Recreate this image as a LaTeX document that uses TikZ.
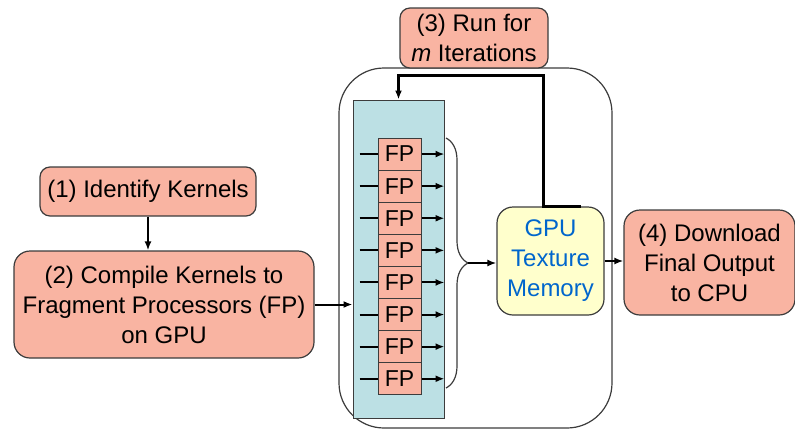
\documentclass[tikz,border=0pt]{standalone}
\usepackage{fontspec}
\setmainfont{Liberation Sans}
\usetikzlibrary{arrows.meta,decorations.pathreplacing}
\definecolor{salmon}{RGB}{249,180,162}
\definecolor{panelblue}{RGB}{188,224,228}
\definecolor{memyellow}{RGB}{255,255,204}
\definecolor{memtext}{RGB}{0,102,204}
\definecolor{edge}{RGB}{60,60,60}
\begin{document}
\begin{tikzpicture}[x=1pt,y=-1pt,>={Latex[length=9pt,width=7pt]},
  stepbox/.style={draw=edge,line width=1.2pt,fill=salmon,rounded corners=12pt,align=center,inner sep=0pt,
    font=\fontsize{24}{30}\selectfont},
  fpbox/.style={draw=edge,line width=1pt,fill=salmon,minimum width=43pt,minimum height=32.1pt,inner sep=0pt,
    font=\fontsize{23}{28}\selectfont},
  flow/.style={->,line width=2pt}]
  \useasboundingbox (0,0) rectangle (795,432);

  % host area and processor panel
  \node [draw=edge,line width=1.2pt,rounded corners=45pt,minimum width=273pt,minimum height=360pt] (host) at (475.5,248) {};
  \node [draw=edge,line width=1pt,fill=panelblue,minimum width=91pt,minimum height=318pt] (panel) at (398.5,259) {};

  % steps
  \node [stepbox,minimum width=216pt,minimum height=49pt,rounded corners=10pt] (identify) at (148,191.5) {(1) Identify Kernels};
  \node [stepbox,minimum width=300pt,minimum height=107pt,rounded corners=16pt] (compile) at (164,304.5) {(2) Compile Kernels to\\Fragment Processors (FP)\\on GPU};
  \node [stepbox,minimum width=148pt,minimum height=60pt,rounded corners=10pt] (run) at (474,38) {(3) Run for\\\textit{m} Iterations};
  \node [stepbox,minimum width=171pt,minimum height=105pt,rounded corners=16pt] (download) at (709.5,262.5) {(4) Download\\Final Output\\to CPU};
  \node [draw=edge,line width=1.2pt,fill=memyellow,rounded corners=16pt,minimum width=107pt,minimum height=108pt,
    align=center,inner sep=0pt,text=memtext,font=\fontsize{24}{30}\selectfont] (gpu) at (550.5,261) {GPU\\Texture\\Memory};

  % fragment processors
  \foreach \i in {1,...,8} {
    \node [fpbox] (fp\i) at (399.5,{138+32.1*(\i-0.5)}) {FP};
    \coordinate (in\i) at ([xshift=-18pt]fp\i.west);
    \coordinate (out\i) at ([xshift=23pt]fp\i.east);
    \draw [line width=2pt] (in\i) -- (fp\i.west);
    \draw [flow] (fp\i.east) -- (out\i);
  }

  % brace into texture memory
  \coordinate (bracetop) at (446,138);
  \coordinate (bracebot) at (446,388);
  \coordinate (bracetip) at (468,263);
  \draw [edge,line width=1.2pt,decorate,decoration={brace,amplitude=22pt}] (bracetop) -- (bracebot);
  \draw [flow] (bracetip) -- (bracetip -| gpu.west);

  \draw [flow] (identify) -- (identify |- compile.north);
  \draw [flow] (compile.east) -- (compile.east -| panel.west);
  \draw [flow] (gpu.east) -- (gpu.east -| download.west);

  % iteration loop
  \draw [->,line width=3pt] ([xshift=30pt]gpu.north) -- ([xshift=-7pt]gpu.north) -- ++(0,-131) -| (panel.north);
\end{tikzpicture}
\end{document}
